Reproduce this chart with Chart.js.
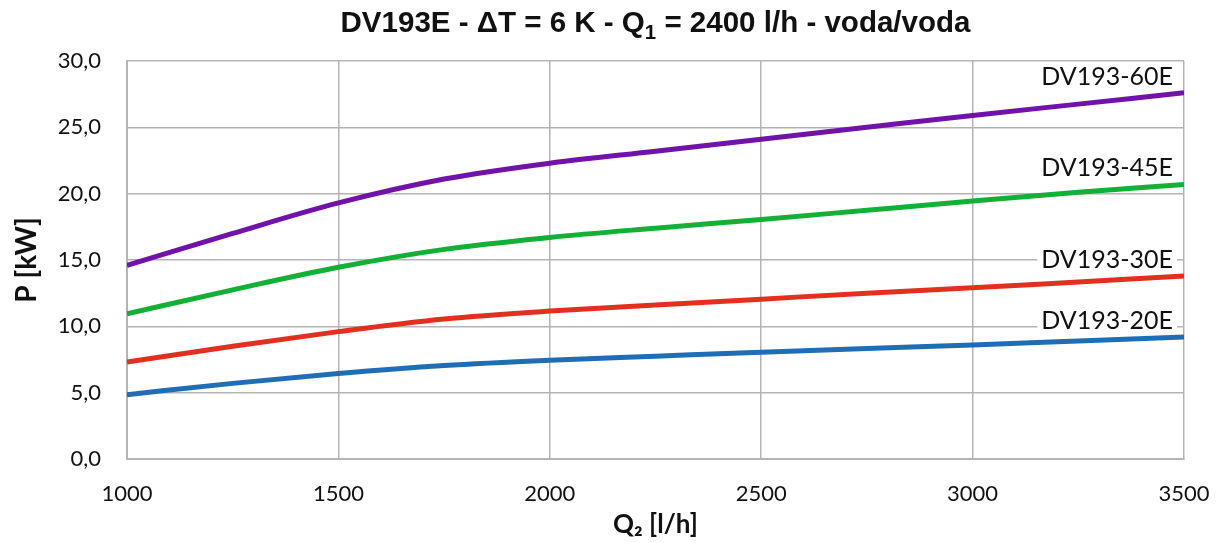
<!DOCTYPE html>
<html>
<head>
<meta charset="utf-8">
<script src="https://cdn.jsdelivr.net/npm/chart.js@4"></script>
<style>
  html, body { margin: 0; padding: 0; background: #fff; }
  #wrap { width: 1220px; height: 543px; }
</style>
</head>
<body>
<div id="wrap"><canvas id="chart" width="1220" height="543"></canvas></div>
<script>
// Q2 [l/h]
const flow = [1000, 1250, 1500, 1750, 2000, 2250, 2500, 2750, 3000, 3250, 3500];
// P [kW] per unit
const p60 = [14.6, 17.0, 19.3, 21.1, 22.3, 23.2, 24.1, 25.0, 25.9, 26.75, 27.6];
const p45 = [10.95, 12.75, 14.45, 15.8, 16.7, 17.4, 18.05, 18.75, 19.45, 20.1, 20.7];
const p30 = [7.3, 8.5, 9.6, 10.55, 11.15, 11.6, 12.05, 12.5, 12.9, 13.35, 13.8];
const p20 = [4.85, 5.7, 6.45, 7.05, 7.45, 7.75, 8.05, 8.33, 8.6, 8.9, 9.2];
const names = ['DV193-60E', 'DV193-45E', 'DV193-30E', 'DV193-20E'];
const colors = ['#7112a8', '#12b035', '#e2301f', '#1f6db5'];
const titleParts = ['DV193E - ΔT = 6 K - Q', '1', ' = 2400 l/h - voda/voda'];

function pts(vals) {
  return flow.map((q, i) => ({ x: q, y: vals[i] }));
}

// condensed bold title with a real subscript, centred over the plot area
const chartTitle = {
  id: 'chartTitle',
  afterDraw(chart) {
    const ctx = chart.ctx;
    const a = chart.chartArea;
    const big = 'bold 29px "Liberation Sans", Arial, sans-serif';
    const small = 'bold 20px "Liberation Sans", Arial, sans-serif';
    ctx.save();
    ctx.font = big;
    const w0 = ctx.measureText(titleParts[0]).width;
    const w2 = ctx.measureText(titleParts[2]).width;
    ctx.font = small;
    const w1 = ctx.measureText(titleParts[1]).width;
    const total = w0 + w1 + w2;
    const target = 630;
    const sx = target / total;
    ctx.translate((a.left + a.right) / 2 - target / 2, 32);
    ctx.scale(sx, 1);
    ctx.fillStyle = '#111';
    ctx.textBaseline = 'alphabetic';
    ctx.textAlign = 'left';
    ctx.font = big;
    ctx.fillText(titleParts[0], 0, 0);
    ctx.font = small;
    ctx.fillText(titleParts[1], w0, 7);
    ctx.font = big;
    ctx.fillText(titleParts[2], w0 + w1, 0);
    ctx.restore();
  }
};

// names drawn above the end of each curve, on a white box
const endLabels = {
  id: 'endLabels',
  afterDatasetsDraw(chart) {
    const ctx = chart.ctx;
    const xs = chart.scales.x;
    const ys = chart.scales.y;
    ctx.save();
    ctx.font = '25px Lato, "Open Sans", sans-serif';
    ctx.textAlign = 'right';
    ctx.textBaseline = 'middle';
    chart.data.datasets.forEach(ds => {
      const last = ds.data[ds.data.length - 1];
      const x = xs.getPixelForValue(last.x) - 11;
      const y = ys.getPixelForValue(last.y) - 16;
      const w = ctx.measureText(ds.label).width;
      ctx.fillStyle = '#fff';
      ctx.fillRect(x - w - 4, y - 13, w + 8, 26);
      ctx.fillStyle = '#111';
      ctx.fillText(ds.label, x, y);
    });
    ctx.restore();
  }
};

new Chart(document.getElementById('chart').getContext('2d'), {
  type: 'line',
  data: {
    datasets: [p60, p45, p30, p20].map((v, i) => ({
      label: names[i],
      data: pts(v),
      borderColor: colors[i],
      borderWidth: 5,
      pointRadius: 0,
      cubicInterpolationMode: 'monotone',
      fill: false
    }))
  },
  options: {
    responsive: false,
    animation: false,
    devicePixelRatio: 1,
    layout: { padding: { left: 10, right: 36, top: 61, bottom: 0 } },
    plugins: {
      legend: { display: false },
      tooltip: { enabled: false },
      title: { display: false }
    },
    scales: {
      x: {
        type: 'linear',
        min: 1000,
        max: 3500,
        afterFit(scale) {
          scale.height = 84;
          scale.paddingLeft = 0;
          scale.paddingRight = 0;
        },
        ticks: {
          stepSize: 500,
          color: '#111',
          padding: 22,
          font: { family: 'Lato, "Open Sans", sans-serif', size: 22 },
          callback: v => String(v)
        },
        grid: { color: '#b4b4b4', lineWidth: 1.5, tickLength: 0 },
        border: { color: '#b4b4b4', width: 2 },
        title: {
          display: true,
          text: 'Q₂ [l/h]',
          color: '#111',
          font: { family: 'Lato, "Open Sans", sans-serif', size: 26, weight: 'bold' },
          padding: { top: 0, bottom: 3 }
        }
      },
      y: {
        min: 0,
        max: 30,
        afterFit(scale) {
          scale.width = 117;
          scale.paddingTop = 0;
          scale.paddingBottom = 0;
        },
        ticks: {
          stepSize: 5,
          color: '#111',
          padding: 26,
          font: { family: 'Lato, "Open Sans", sans-serif', size: 22 },
          callback: v => v.toFixed(1).replace('.', ',')
        },
        grid: { color: '#b4b4b4', lineWidth: 1.5, tickLength: 0 },
        border: { color: '#b4b4b4', width: 2 },
        title: {
          display: true,
          text: 'P [kW]',
          color: '#111',
          font: { family: 'Lato, "Open Sans", sans-serif', size: 28, weight: 'bold' },
          padding: { top: 0, bottom: 0 }
        }
      }
    }
  },
  plugins: [endLabels, chartTitle]
});
</script>
</body>
</html>
